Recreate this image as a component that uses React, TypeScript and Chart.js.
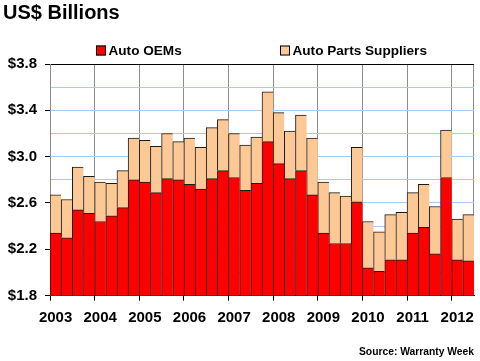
import React, { useEffect, useRef } from "react";
import { Chart, registerables } from "chart.js";

Chart.register(...registerables);

const quarters: string[] = [
  "2003 Q1", "2003 Q2", "2003 Q3", "2003 Q4",
  "2004 Q1", "2004 Q2", "2004 Q3", "2004 Q4",
  "2005 Q1", "2005 Q2", "2005 Q3", "2005 Q4",
  "2006 Q1", "2006 Q2", "2006 Q3", "2006 Q4",
  "2007 Q1", "2007 Q2", "2007 Q3", "2007 Q4",
  "2008 Q1", "2008 Q2", "2008 Q3", "2008 Q4",
  "2009 Q1", "2009 Q2", "2009 Q3", "2009 Q4",
  "2010 Q1", "2010 Q2", "2010 Q3", "2010 Q4",
  "2011 Q1", "2011 Q2", "2011 Q3", "2011 Q4",
  "2012 Q1", "2012 Q2",
];

const autoOEMs: number[] = [
  2.34, 2.30, 2.54, 2.51,
  2.44, 2.49, 2.56, 2.80,
  2.78, 2.69, 2.81, 2.80,
  2.76, 2.72, 2.81, 2.88,
  2.82, 2.71, 2.77, 3.13,
  2.94, 2.81, 2.88, 2.67,
  2.34, 2.25, 2.25, 2.61,
  2.04, 2.01, 2.11, 2.11,
  2.34, 2.39, 2.16, 2.82,
  2.11, 2.10,
];

const autoPartsSuppliers: number[] = [
  0.33, 0.33, 0.37, 0.32,
  0.34, 0.28, 0.32, 0.36,
  0.36, 0.40, 0.39, 0.33,
  0.40, 0.36, 0.44, 0.44,
  0.38, 0.39, 0.40, 0.43,
  0.44, 0.41, 0.48, 0.49,
  0.44, 0.44, 0.41, 0.47,
  0.40, 0.34, 0.39, 0.41,
  0.35, 0.37, 0.41, 0.41,
  0.35, 0.40,
];

const seriesNames: string[] = ["Auto OEMs", "Auto Parts Suppliers"];
const yTickLabels: number[] = [1.8, 2.2, 2.6, 3.0, 3.4, 3.8];

const FONT = "'Liberation Sans', Arial, sans-serif";

const legendPlugin = {
  id: "customLegend",
  afterDraw(chart: any) {
    const ctx = chart.ctx;
    const positions = [96, 280];
    ctx.save();
    ctx.font = `bold 13.6px ${FONT}`;
    ctx.textBaseline = "alphabetic";
    ctx.textAlign = "left";
    chart.data.datasets.forEach((ds: any, i: number) => {
      const x = positions[i];
      ctx.fillStyle = ds.backgroundColor;
      ctx.fillRect(x, 45.5, 10, 10);
      ctx.strokeStyle = "#000";
      ctx.lineWidth = 1;
      ctx.strokeRect(x + 0.5, 46, 9, 9);
      ctx.fillStyle = "#000";
      ctx.fillText(ds.label, x + 12.5, 55);
    });
    ctx.restore();
  },
};

export default function App() {
  const ref = useRef<HTMLCanvasElement | null>(null);

  useEffect(() => {
    if (!ref.current) return;
    const chart = new Chart(ref.current, {
      type: "bar",
      data: {
        labels: quarters,
        datasets: [
          {
            label: seriesNames[0],
            data: autoOEMs,
            backgroundColor: "#FF0000",
            borderColor: "#1a1a1a",
            borderWidth: { top: 1, left: 1, right: 0, bottom: 0 },
            borderSkipped: false,
            barPercentage: 1,
            categoryPercentage: 1,
          },
          {
            label: seriesNames[1],
            data: autoPartsSuppliers,
            backgroundColor: "#FCC896",
            borderColor: "#1a1a1a",
            borderWidth: { top: 1, left: 1, right: 0, bottom: 0 },
            borderSkipped: false,
            barPercentage: 1,
            categoryPercentage: 1,
          },
        ],
      },
      plugins: [legendPlugin],
      options: {
        animation: false,
        responsive: true,
        maintainAspectRatio: false,
        layout: { padding: { left: 3, right: 6, top: 0, bottom: 0 } },
        plugins: {
          legend: { display: false },
          tooltip: { enabled: false },
          title: {
            display: true,
            text: "US$ Billions",
            align: "start",
            color: "#000",
            font: { family: FONT, size: 20, weight: "bold" },
            padding: { top: 1, bottom: 39 },
          },
          subtitle: {
            display: true,
            text: "Source: Warranty Week",
            position: "bottom",
            align: "end",
            color: "#000",
            font: { family: FONT, size: 10.3, weight: "bold" },
            padding: { top: 11.5, bottom: 2.5 },
          },
        },
        scales: {
          x: {
            stacked: true,
            offset: true,
            border: { display: true, color: "#000", width: 1 },
            grid: {
              offset: true,
              drawOnChartArea: true,
              tickLength: 5,
              color: (c: any) =>
                c.index === undefined || c.index % 4 === 0 ? "#8c8c8c" : "rgba(0,0,0,0)",
              tickColor: (c: any) =>
                c.index !== undefined && c.index % 4 === 0 ? "#000" : "rgba(0,0,0,0)",
            },
            ticks: {
              autoSkip: false,
              maxRotation: 0,
              minRotation: 0,
              padding: 8,
              color: "#000",
              font: { family: FONT, size: 15, weight: "bold" },
              callback: (_v: any, i: number) =>
                i % 4 === 0 ? quarters[i].slice(0, 4) : "",
            },
          },
          y: {
            stacked: true,
            min: 1.8,
            max: 3.8,
            afterFit: (scale: any) => {
              scale.width = 47;
            },
            border: { display: true, color: "#8c8c8c", width: 1 },
            grid: {
              tickLength: 5,
              color: (c: any) =>
                c.tick && Math.abs(c.tick.value - 3.8) < 1e-6 ? "#000" : "#A4CCF2",
              tickColor: (c: any) =>
                c.tick && yTickLabels.some((t) => Math.abs(t - c.tick.value) < 1e-6)
                  ? "#000"
                  : "rgba(0,0,0,0)",
            },
            ticks: {
              stepSize: 0.1,
              padding: 8,
              color: "#000",
              font: { family: FONT, size: 15, weight: "bold" },
              callback: (v: any) => {
                const n = Number(v);
                return yTickLabels.some((t) => Math.abs(t - n) < 1e-6)
                  ? "$" + n.toFixed(1)
                  : "";
              },
            },
          },
        },
      },
    });
    return () => chart.destroy();
  }, []);

  return (
    <div style={{ position: "fixed", left: 0, top: 0, width: 480, height: 361, background: "#fff" }}>
      <canvas ref={ref} />
    </div>
  );
}
